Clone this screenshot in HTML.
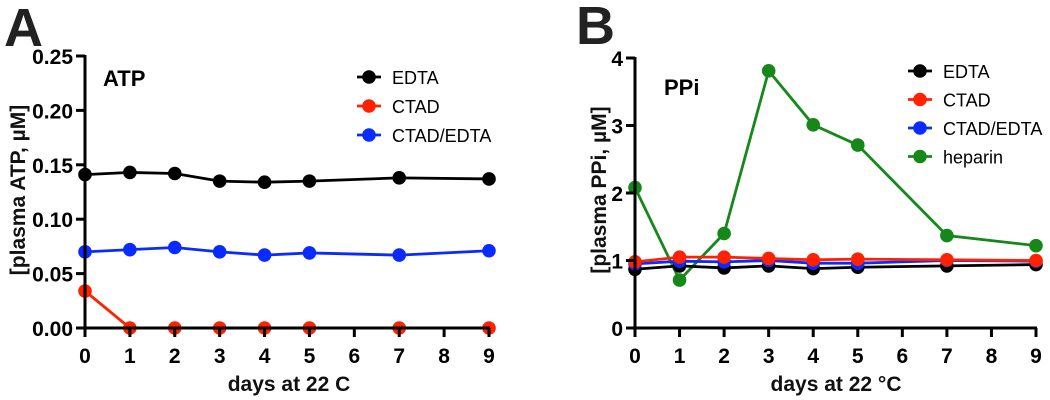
<!DOCTYPE html>
<html><head><meta charset="utf-8"><style>
body{margin:0;background:#fff;}
svg{display:block;font-family:"Liberation Sans",Arial,sans-serif;}
.tl{font-size:21px;font-weight:bold;fill:#000;}
.ti{font-size:21px;font-weight:bold;fill:#111;}
.lg{font-size:18px;fill:#000;}
</style></head><body>
<svg id="c" width="1050" height="400" xmlns="http://www.w3.org/2000/svg"></svg>
<script>
const days=[0,1,2,3,4,5,7,9];
const xTicks=[0,1,2,3,4,5,6,7,8,9];
const atpEDTA=[0.141,0.143,0.142,0.135,0.134,0.135,0.138,0.137];
const atpCTAD=[0.034,0,0,0,0,0,0,0];
const atpCTADEDTA=[0.070,0.072,0.074,0.070,0.067,0.069,0.067,0.071];
const atpYTicks=["0.00","0.05","0.10","0.15","0.20","0.25"];
const ppiEDTA=[0.87,0.92,0.89,0.92,0.88,0.90,0.92,0.94];
const ppiCTAD=[0.98,1.05,1.05,1.03,1.01,1.02,1.01,1.00];
const ppiCTADEDTA=[0.95,0.99,0.98,1.00,0.96,0.96,1.00,0.99];
const ppiHeparin=[2.08,0.71,1.40,3.81,3.01,2.71,1.37,1.22];
const ppiYTicks=["0","1","2","3","4"];

const svg=document.getElementById('c');
const NS="http://www.w3.org/2000/svg";
function mk(tag,attrs,parent){const e=document.createElementNS(NS,tag);for(const k in attrs)e.setAttribute(k,attrs[k]);(parent||svg).appendChild(e);return e;}
function txt(s,attrs,name){const e=mk('text',attrs);e.textContent=s;


return e;}

function panel(P){
  const g=mk('g',{});
  
  
  const X=v=>P.x0+(P.x1-P.x0)*v/9;
  const Y=v=>P.y0+(P.y1-P.y0)*v/P.ymax;
  P.drawOrder.forEach(idx=>{const s=P.series[idx];
    const sg=mk('g',{},g);
    
    
    mk('polyline',{points:days.map((d,i)=>X(d)+','+Y(s.vals[i])).join(' '),fill:'none',stroke:s.color,'stroke-width':2.8},sg);
    days.forEach((d,i)=>{const c=mk('circle',{cx:X(d),cy:Y(s.vals[i]),r:6.8,fill:s.color},sg);
      
      });
  });
  const ax=mk('path',{d:`M${P.x0},${P.y1-1}V${P.y0}H${P.x1+1}`,fill:'none',stroke:'#000','stroke-width':3},g);
  
  
  P.yt.forEach((t,i)=>{const v=P.ymax*i/(P.yt.length-1);
    mk('line',{x1:P.x0-9,x2:P.x0,y1:Y(v),y2:Y(v),stroke:'#000','stroke-width':3},g);
    txt(t,{x:P.x0-12,y:Y(v)+8,'text-anchor':'end',class:'tl'},P.id+'-y-tick-label');});
  xTicks.forEach(t=>{
    mk('line',{x1:X(t),x2:X(t),y1:P.y0,y2:P.y0+9,stroke:'#000','stroke-width':3},g);
    txt(String(t),{x:X(t),y:P.y0+35,'text-anchor':'middle',class:'tl'},P.id+'-x-tick-label');});
  P.series.forEach((s,i)=>{const ly=P.ly+i*P.ldy;
    mk('line',{x1:P.lx,x2:P.lx+24,y1:ly,y2:ly,stroke:s.color,'stroke-width':2.8},g);
    mk('circle',{cx:P.lx+12,cy:ly,r:6.8,fill:s.color},g);
    txt(s.name,{x:P.lx+35,y:ly+7,class:'lg'},'legend-entry-'+s.name.toLowerCase().replace('/','-'));});
}
panel({id:'atp',x0:85,x1:489,y0:328,y1:56,ymax:0.25,yt:atpYTicks,lx:357,ly:77,ldy:29,drawOrder:[0,2,1],
 series:[{name:'EDTA',color:'#000',vals:atpEDTA},{name:'CTAD',color:'#ff2200',vals:atpCTAD},{name:'CTAD/EDTA',color:'#0a2bff',vals:atpCTADEDTA}]});
panel({id:'ppi',x0:635,x1:1036,y0:328,y1:58,ymax:4,yt:ppiYTicks,lx:908,ly:71,ldy:28.5,drawOrder:[3,0,2,1],
 series:[{name:'EDTA',color:'#000',vals:ppiEDTA},{name:'CTAD',color:'#ff2200',vals:ppiCTAD},{name:'CTAD/EDTA',color:'#0a2bff',vals:ppiCTADEDTA},{name:'heparin',color:'#16881a',vals:ppiHeparin}]});

txt('A',{x:4,y:46,'font-size':54,'font-weight':'bold',fill:'#222'},'panel-a-label');
txt('B',{x:576,y:44,'font-size':54,'font-weight':'bold',fill:'#222'},'panel-b-label');
txt('ATP',{x:103,y:86,'font-size':22,'font-weight':'bold'},'atp-title');
txt('PPi',{x:664,y:95,'font-size':22,'font-weight':'bold'},'ppi-title');
txt('days at 22 C',{x:289,y:391,'text-anchor':'middle',class:'ti'},'atp-x-axis-title');
txt('days at 22 °C',{x:836,y:391,'text-anchor':'middle',class:'ti'},'ppi-x-axis-title');
txt('[plasma ATP, µM]',{x:0,y:0,'text-anchor':'middle',class:'ti',transform:'translate(25,190) rotate(-90)'},'atp-y-axis-title');
txt('[plasma PPi, µM]',{x:0,y:0,'text-anchor':'middle',class:'ti',transform:'translate(606,190) rotate(-90)'},'ppi-y-axis-title');
</script>
</body></html>
